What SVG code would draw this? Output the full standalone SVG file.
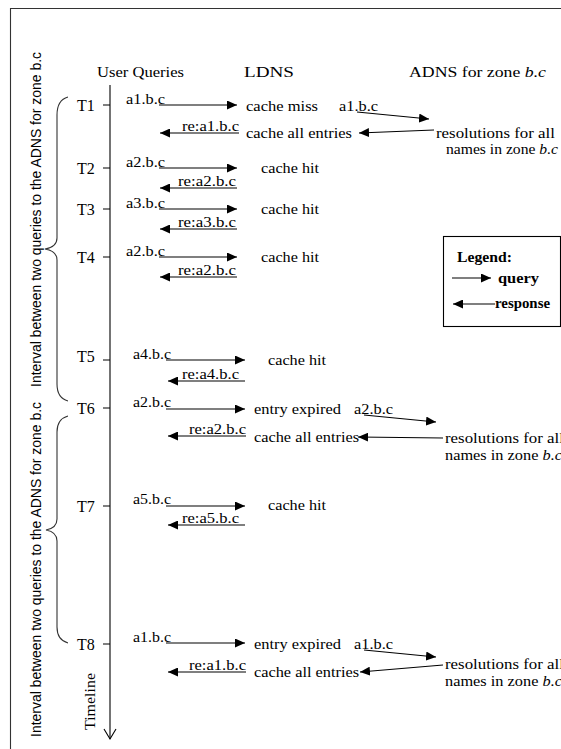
<svg xmlns="http://www.w3.org/2000/svg" width="561" height="749" viewBox="0 0 561 749">
<style>
.s{font-family:"Liberation Serif","Times New Roman",serif;font-size:15px;fill:#000}
.h{font-size:15px}
.t{font-size:16px}
.b{font-weight:bold;font-size:14px}
.v{font-family:"Liberation Sans",Arial,sans-serif;font-size:14px;fill:#000}
.i{font-style:italic}
.ln{stroke:#000;stroke-width:1.1;fill:none}
.ar{stroke:#000;stroke-width:1.1;fill:none;marker-end:url(#ah)}
.fr{stroke:#333;stroke-width:1.1;fill:none}
</style>
<defs>
<marker id="ah" markerUnits="userSpaceOnUse" markerWidth="11" markerHeight="9" refX="10" refY="4.5" orient="auto">
<path d="M0,0 L10,4.5 L0,9 z" fill="#000"/>
</marker>
</defs>
<rect width="561" height="749" fill="#fff"/>
<path class="fr" d="M10.5,749 L10.5,8.5 L561,8.5"/>

<g id="interval-labels">
<text class="v" transform="translate(41,387) rotate(-90)" textLength="335" lengthAdjust="spacingAndGlyphs">Interval between two queries to the ADNS for zone b.c</text>
<text class="v" transform="translate(41,737) rotate(-90)" textLength="335" lengthAdjust="spacingAndGlyphs">Interval between two queries to the ADNS for zone b.c</text>
<path class="fr" d="M68,97 Q57,100 57,115 L57,238 Q57,247 45,249 Q57,251 57,260 L57,384 Q57,398 68,401"/>
<path class="fr" d="M68,416 Q57,419 57,432 L57,519 Q57,528 46,530 Q57,532 57,541 L57,627 Q57,640 68,643"/>
</g>

<g id="headers">
<text class="s h" x="97" y="77" textLength="87" lengthAdjust="spacingAndGlyphs">User Queries</text>
<text class="s h" x="244" y="77" textLength="50" lengthAdjust="spacingAndGlyphs">LDNS</text>
<text class="s h" x="409" y="77" textLength="137" lengthAdjust="spacingAndGlyphs">ADNS for zone <tspan class="i">b.c</tspan></text>
</g>

<g id="timeline">
<path class="ln" d="M110,85 L110,739"/>
<path class="ln" d="M104,729 L110,739 L116,729"/>
<text class="s h" transform="translate(95,730) rotate(-90)" textLength="57" lengthAdjust="spacingAndGlyphs">Timeline</text>
<path class="ln" d="M103,105 H110 M103,168 H110 M103,209 H110 M103,257 H110 M103,360 H110 M103,408 H110 M103,506 H110 M103,644 H110"/>
<text class="s t" x="77" y="111">T1</text>
<text class="s t" x="77" y="174">T2</text>
<text class="s t" x="77" y="215">T3</text>
<text class="s t" x="77" y="263">T4</text>
<text class="s t" x="77" y="362">T5</text>
<text class="s t" x="77" y="414">T6</text>
<text class="s t" x="77" y="512">T7</text>
<text class="s t" x="77" y="650">T8</text>
</g>

<g id="row-t1">
<text class="s" x="126" y="104" textLength="39" lengthAdjust="spacingAndGlyphs">a1.b.c</text>
<text class="s" x="246" y="111" textLength="72" lengthAdjust="spacingAndGlyphs">cache miss</text>
<text class="s" x="339" y="111" textLength="39" lengthAdjust="spacingAndGlyphs">a1.b.c</text>
<text class="s" x="182" y="131" textLength="57" lengthAdjust="spacingAndGlyphs">re:a1.b.c</text>
<text class="s" x="246" y="138" textLength="106" lengthAdjust="spacingAndGlyphs">cache all entries</text>
<text class="s" x="436" y="138" textLength="119" lengthAdjust="spacingAndGlyphs">resolutions for all</text>
<text class="s" x="446" y="154" textLength="112" lengthAdjust="spacingAndGlyphs">names in zone <tspan class="i">b.c</tspan></text>
</g>

<g id="row-t2">
<text class="s" x="126" y="167" textLength="39" lengthAdjust="spacingAndGlyphs">a2.b.c</text>
<text class="s" x="261" y="173" textLength="58" lengthAdjust="spacingAndGlyphs">cache hit</text>
<text class="s" x="178" y="186" textLength="58" lengthAdjust="spacingAndGlyphs">re:a2.b.c</text>
</g>

<g id="row-t3">
<text class="s" x="126" y="208" textLength="39" lengthAdjust="spacingAndGlyphs">a3.b.c</text>
<text class="s" x="261" y="214" textLength="58" lengthAdjust="spacingAndGlyphs">cache hit</text>
<text class="s" x="178" y="227" textLength="58" lengthAdjust="spacingAndGlyphs">re:a3.b.c</text>
</g>

<g id="row-t4">
<text class="s" x="126" y="256" textLength="39" lengthAdjust="spacingAndGlyphs">a2.b.c</text>
<text class="s" x="261" y="262" textLength="58" lengthAdjust="spacingAndGlyphs">cache hit</text>
<text class="s" x="178" y="275" textLength="58" lengthAdjust="spacingAndGlyphs">re:a2.b.c</text>
</g>

<g id="row-t5">
<text class="s" x="133" y="359" textLength="38" lengthAdjust="spacingAndGlyphs">a4.b.c</text>
<text class="s" x="268" y="365" textLength="58" lengthAdjust="spacingAndGlyphs">cache hit</text>
<text class="s" x="182" y="379" textLength="57" lengthAdjust="spacingAndGlyphs">re:a4.b.c</text>
</g>

<g id="row-t6">
<text class="s" x="133" y="407" textLength="38" lengthAdjust="spacingAndGlyphs">a2.b.c</text>
<text class="s" x="254" y="414" textLength="87" lengthAdjust="spacingAndGlyphs">entry expired</text>
<text class="s" x="354" y="414" textLength="39" lengthAdjust="spacingAndGlyphs">a2.b.c</text>
<text class="s" x="189" y="434" textLength="57" lengthAdjust="spacingAndGlyphs">re:a2.b.c</text>
<text class="s" x="254" y="442" textLength="105" lengthAdjust="spacingAndGlyphs">cache all entries</text>
<text class="s" x="445" y="443" textLength="119" lengthAdjust="spacingAndGlyphs">resolutions for all</text>
<text class="s" x="445" y="460" textLength="117" lengthAdjust="spacingAndGlyphs">names in zone <tspan class="i">b.c</tspan></text>
</g>

<g id="row-t7">
<text class="s" x="133" y="504" textLength="38" lengthAdjust="spacingAndGlyphs">a5.b.c</text>
<text class="s" x="268" y="510" textLength="58" lengthAdjust="spacingAndGlyphs">cache hit</text>
<text class="s" x="182" y="523" textLength="57" lengthAdjust="spacingAndGlyphs">re:a5.b.c</text>
</g>

<g id="row-t8">
<text class="s" x="133" y="642" textLength="38" lengthAdjust="spacingAndGlyphs">a1.b.c</text>
<text class="s" x="254" y="649" textLength="87" lengthAdjust="spacingAndGlyphs">entry expired</text>
<text class="s" x="354" y="649" textLength="39" lengthAdjust="spacingAndGlyphs">a1.b.c</text>
<text class="s" x="189" y="670" textLength="57" lengthAdjust="spacingAndGlyphs">re:a1.b.c</text>
<text class="s" x="254" y="677" textLength="105" lengthAdjust="spacingAndGlyphs">cache all entries</text>
<text class="s" x="445" y="669" textLength="119" lengthAdjust="spacingAndGlyphs">resolutions for all</text>
<text class="s" x="445" y="686" textLength="117" lengthAdjust="spacingAndGlyphs">names in zone <tspan class="i">b.c</tspan></text>
</g>

<g id="legend">
<rect x="443.5" y="236.5" width="117" height="90" fill="none" stroke="#000" stroke-width="1.1"/>
<text class="s b" x="457" y="262" textLength="55" lengthAdjust="spacingAndGlyphs">Legend:</text>
<path class="ar" d="M452,278 H491"/>
<text class="s b" x="498" y="283" textLength="41" lengthAdjust="spacingAndGlyphs">query</text>
<path class="ar" d="M495,304 H453"/>
<text class="s b" x="495" y="308" textLength="55" lengthAdjust="spacingAndGlyphs">response</text>
</g>

<g id="connectors">
<path class="ar" d="M159,105 H237"/>
<path class="ar" d="M357,112 L429,119"/>
<path class="ar" d="M239,133 H160"/>
<path class="ar" d="M434,130 L359,133"/>
<path class="ar" d="M159,168 H237"/>
<path class="ar" d="M237,188 H160"/>
<path class="ar" d="M159,209 H237"/>
<path class="ar" d="M237,229 H160"/>
<path class="ar" d="M159,257 H237"/>
<path class="ar" d="M237,277 H160"/>
<path class="ar" d="M166,360 H245"/>
<path class="ar" d="M245,381 H168"/>
<path class="ar" d="M166,409 H245"/>
<path class="ar" d="M364,415 L436,422"/>
<path class="ar" d="M246,436 H168"/>
<path class="ar" d="M443,438 L358,437"/>
<path class="ar" d="M166,506 H245"/>
<path class="ar" d="M245,525 H168"/>
<path class="ar" d="M166,643 H245"/>
<path class="ar" d="M364,650 L436,657"/>
<path class="ar" d="M246,672 H168"/>
<path class="ar" d="M443,665 L360,672"/>
</g>
</svg>
